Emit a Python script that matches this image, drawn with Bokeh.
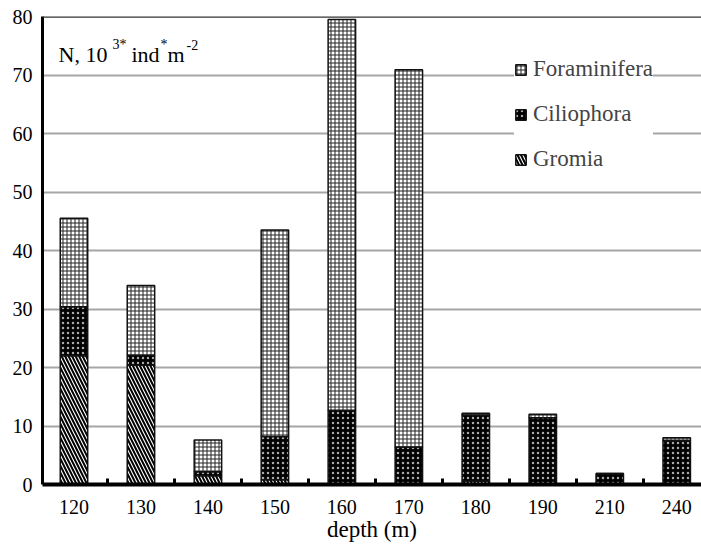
import numpy as np
from bokeh.plotting import figure
from bokeh.models import Range1d, FixedTicker, Label, Span, Legend, LegendItem
from bokeh.embed import file_html
from bokeh.resources import INLINE

depths = ["120", "130", "140", "150", "160", "170", "180", "190", "210", "240"]
gromia = [22.0, 20.4, 1.5, 0.8, 0.0, 0.0, 0.6, 0.0, 0.0, 0.0]
ciliophora = [8.4, 1.7, 0.7, 7.4, 12.7, 6.4, 11.3, 11.4, 1.9, 7.5]
foraminifera = [15.1, 11.9, 5.4, 35.3, 66.8, 64.5, 0.3, 0.6, 0.0, 0.5]
y_ticks = [0, 10, 20, 30, 40, 50, 60, 70, 80]

FONT = "Times New Roman"

x = np.arange(len(depths))
g = np.array(gromia)
c = np.array(ciliophora)
f = np.array(foraminifera)

p = figure(width=701, height=544, output_backend="svg", toolbar_location=None,
           x_range=Range1d(-0.47, 9.37), y_range=Range1d(0, 80),
           min_border_left=42, min_border_top=16, min_border_right=0, min_border_bottom=59)
p.outline_line_color = None
p.xgrid.grid_line_color = None
p.ygrid.grid_line_color = "#a6a6a6"
p.ygrid.grid_line_width = 2
p.yaxis.ticker = FixedTicker(ticks=y_ticks)

p.xaxis.ticker = FixedTicker(ticks=list(range(len(depths))),
                             minor_ticks=[i + 0.5 for i in range(len(depths) - 1)])
p.xaxis.major_label_overrides = {i: d for i, d in enumerate(depths)}
p.xaxis.major_tick_line_color = None
p.xaxis.minor_tick_line_color = "black"
p.xaxis.minor_tick_line_width = 3
p.xaxis.minor_tick_in = 6
p.xaxis.minor_tick_out = 0
p.xaxis.axis_line_width = 4
p.xaxis.axis_line_color = "black"
p.xaxis.major_label_standoff = 9
p.xaxis.axis_label = "depth (m)"
p.xaxis.axis_label_standoff = 0
p.xaxis.axis_label_text_font_style = "normal"

p.yaxis.major_tick_line_color = None
p.yaxis.minor_tick_line_color = None
p.yaxis.axis_line_width = 3
p.yaxis.axis_line_color = "black"
p.yaxis.major_label_standoff = 4

for ax in (p.xaxis[0], p.yaxis[0]):
    ax.major_label_text_font = FONT
    ax.major_label_text_font_size = "20px"
    ax.major_label_text_color = "black"
    ax.axis_label_text_font = FONT
    ax.axis_label_text_font_size = "23px"
    ax.axis_label_text_color = "black"

W = 0.41
rg = p.vbar(x=x, width=W, bottom=0, top=g, fill_color="white",
            hatch_pattern="\\", hatch_color="black", hatch_scale=7, hatch_weight=2,
            line_color="#111111", line_width=1.5)
rc = p.vbar(x=x, width=W, bottom=g, top=g + c, fill_color="black",
            hatch_pattern="dot", hatch_color="#aaaaaa", hatch_scale=5, hatch_weight=1,
            line_color="#111111", line_width=1.5)
rf = p.vbar(x=x, width=W, bottom=g + c, top=g + c + f, fill_color="white",
            hatch_pattern="+", hatch_color="#222222", hatch_scale=4, hatch_weight=1,
            line_color="#111111", line_width=1.5)

p.add_layout(Span(location=80, dimension="width", line_color="#333333", line_width=2.5))

legend = Legend(items=[LegendItem(label="Foraminifera", renderers=[rf]),
                       LegendItem(label="Ciliophora", renderers=[rc]),
                       LegendItem(label="Gromia", renderers=[rg])],
                location=(472, 312), border_line_color=None,
                background_fill_color="white", background_fill_alpha=1.0,
                label_text_font=FONT, label_text_font_size="23px",
                glyph_width=13, glyph_height=13, label_height=24, spacing=19,
                padding=6, label_standoff=6, margin=0)
p.add_layout(legend, "center")

pieces = [("N, 10", 16, 430, "22px"), ("3*", 70, 440, "14px"), ("ind", 89, 430, "22px"),
          ("*", 118, 440, "14px"), ("m", 125, 430, "22px"), ("-2", 144, 440, "14px")]
for t, sx, sy, fs in pieces:
    p.add_layout(Label(x=sx, y=sy, x_units="screen", y_units="screen", text=t,
                       text_font=FONT, text_font_size=fs, text_color="black",
                       text_baseline="alphabetic"))

open("out.html", "w").write(file_html(p, INLINE))
